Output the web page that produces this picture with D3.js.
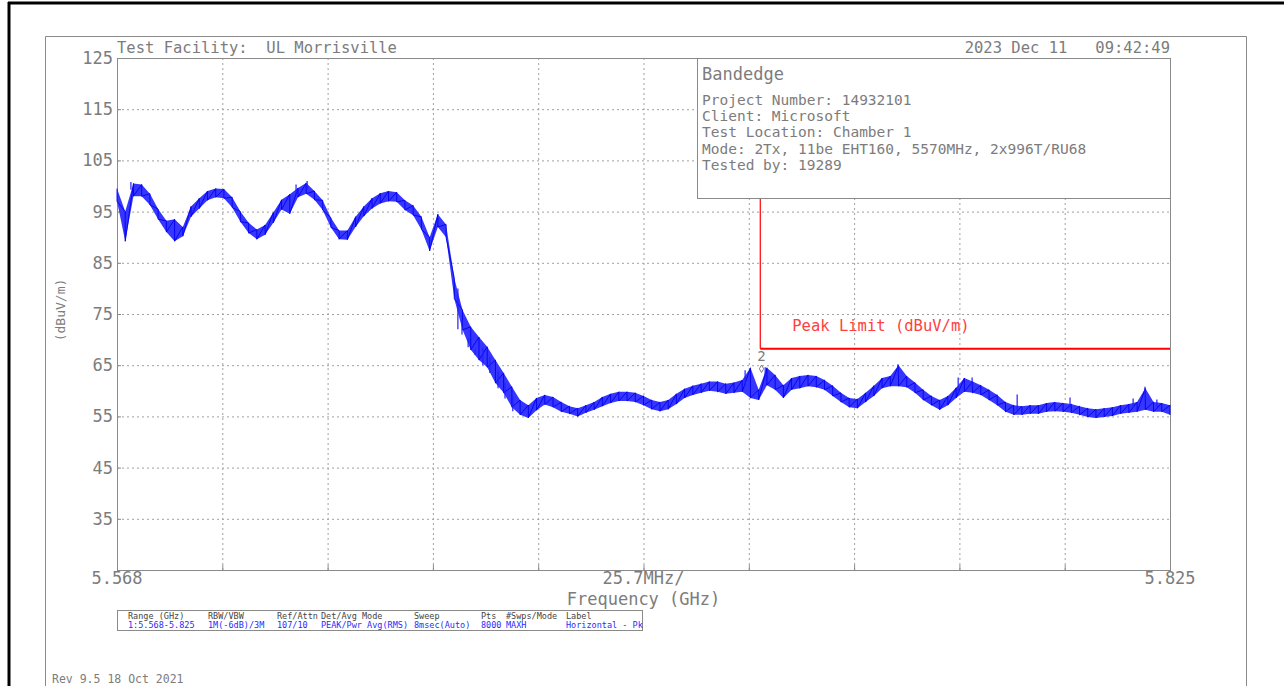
<!DOCTYPE html>
<html><head><meta charset="utf-8">
<script src="https://cdn.jsdelivr.net/npm/d3@7"></script>
<style>
body{margin:0;background:#fff}
svg{display:block}
text{font-family:"DejaVu Sans Mono",monospace}
</style>
</head><body>
<svg id="c" width="1284" height="686"></svg>
<script>
// ---------- data ----------
const freqStart = 5.568, freqStop = 5.825;           // GHz
const yDomain = [25, 125];
const yTickValues = [125, 115, 105, 95, 85, 75, 65, 55, 45, 35];
const xLabels = ["5.568", "25.7MHz/", "5.825"];
const titleLeft = "Test Facility:  UL Morrisville";
const titleRight = "2023 Dec 11   09:42:49";
const yTitle = "(dBuV/m)";
const xTitle = "Frequency (GHz)";
const infoTitle = "Bandedge";
const infoLines = ["Project Number: 14932101", "Client: Microsoft", "Test Location: Chamber 1",
  "Mode: 2Tx, 11be EHT160, 5570MHz, 2x996T/RU68", "Tested by: 19289"];
const limitFreq = 5.725, limitLevel = 68.2;
const limitLabel = "Peak Limit (dBuV/m)";
const markerLabel = "2";
const markerFreq = 5.7253, markerLevel = 64.3;
const tableHeaders = ["Range (GHz)", "RBW/VBW", "Ref/Attn", "Det/Avg Mode", "Sweep", "Pts", "#Swps/Mode", "Label"];
const tableValues = ["1:5.568-5.825", "1M(-6dB)/3M", "107/10", "PEAK/Pwr Avg(RMS)", "8msec(Auto)", "8000", "MAXH", "Horizontal - Pk"];
const revText = "Rev 9.5 18 Oct 2021";
// trace envelope (max / min of peak trace), evenly spaced points over the span
const traceHigh = [
99.5,95.0,100.5,100.3,98.5,95.5,93.2,93.5,92.0,96.0,
97.6,99.0,99.5,99.4,97.8,95.0,92.8,91.5,92.4,94.8,
97.3,98.4,99.6,100.6,99.0,97.2,93.8,91.3,91.3,94.0,
96.0,97.6,98.6,99.0,98.8,97.2,96.2,94.0,90.0,94.5,
92.5,82.0,75.8,72.5,70.5,68.6,66.0,63.5,60.8,58.2,
57.2,58.6,59.2,58.8,57.8,57.0,56.6,57.2,57.8,58.8,
59.4,59.8,59.8,59.6,59.0,58.2,57.8,58.2,59.4,60.4,
61.0,61.4,61.8,61.8,61.4,61.6,62.1,64.5,60.2,64.5,
63.1,61.1,62.5,62.9,63.1,62.9,62.1,61.0,59.6,58.6,
58.4,59.6,61.0,62.5,62.9,65.0,62.9,61.6,60.2,59.0,
58.2,59.0,60.6,62.5,61.8,61.1,60.2,59.2,57.8,57.2,
57.0,57.2,57.2,57.6,57.8,57.6,57.4,57.0,56.6,56.4,
56.6,56.8,57.2,57.4,57.8,60.5,57.8,57.6,57.2];
const traceLow = [
97.0,89.2,98.0,98.0,96.3,93.5,91.0,89.2,90.2,94.0,
95.6,97.2,97.8,97.6,95.8,93.0,90.8,89.6,90.5,92.8,
95.4,94.6,97.8,98.5,97.3,95.3,91.9,89.6,89.5,92.0,
94.1,95.6,96.6,97.0,96.9,95.3,94.3,91.5,87.3,92.0,
90.0,78.0,71.9,68.0,66.0,64.6,61.5,59.6,56.8,55.3,
54.7,56.2,57.3,56.8,55.9,55.5,55.0,55.7,56.3,57.0,
57.6,58.0,58.0,57.8,57.2,56.4,56.0,56.4,57.4,58.6,
59.2,59.6,60.0,59.8,59.4,59.6,59.8,58.6,58.2,61.1,
60.2,58.6,60.2,60.5,60.9,60.7,60.2,59.0,57.8,56.8,
56.6,57.8,59.0,60.5,60.9,60.9,60.7,59.6,58.2,57.2,
56.3,57.2,58.6,59.8,59.6,59.2,58.2,57.2,55.9,55.3,
55.3,55.5,55.5,55.9,56.0,55.9,55.7,55.3,54.9,54.7,
54.9,55.1,55.5,55.7,55.9,56.3,55.9,55.9,55.3];
// isolated noise spikes visible on the trace
const spikeFreq = [5.5714, 5.6117, 5.6144, 5.6512, 5.6522, 5.6537, 5.6554, 5.6573, 5.6590, 5.6610, 5.6627, 5.6646,
  5.7213, 5.7262, 5.7586, 5.7733, 5.7767, 5.7877, 5.8006, 5.8160, 5.8189, 5.8218];
const spikeLevel = [100.8, 100.3, 101.0, 72.0, 71.0, 68.5, 67.0, 65.0, 63.5, 60.5, 58.5, 56.0,
  64.0, 64.6, 65.2, 62.6, 62.6, 59.3, 58.7, 58.5, 60.8, 58.3];

// ---------- layout ----------
const P = {left: 117, top: 58, right: 1170, bottom: 570};
const grey = "#7c7c7c";
const svg = d3.select("#c");
const x = d3.scaleLinear([freqStart, freqStop], [P.left, P.right]);
const y = d3.scaleLinear(yDomain, [P.bottom, P.top]);
const n = traceHigh.length;
const fAt = i => freqStart + i * (freqStop - freqStart) / (n - 1);

// page frames
svg.append("line").attr("x1", 8).attr("x2", 1284).attr("y1", 3).attr("y2", 3).attr("stroke", "#000").attr("stroke-width", 3);
svg.append("line").attr("x1", 9).attr("x2", 9).attr("y1", 2).attr("y2", 686).attr("stroke", "#000").attr("stroke-width", 3);
svg.append("path").attr("d", "M45.5,686V36.5H1246.5V686").attr("fill", "none").attr("stroke", "#8a8a8a").attr("stroke-width", 1);

// grid
const xGrid = d3.range(1, 10).map(i => freqStart + i * (freqStop - freqStart) / 10);
const gx = svg.append("g").attr("transform", `translate(0,${P.bottom})`)
  .call(d3.axisBottom(x).tickValues(xGrid).tickSize(-(P.bottom - P.top)).tickFormat(""));
gx.select(".domain").remove();
gx.selectAll("line").attr("stroke", "#a0a0a0").attr("stroke-dasharray", "2,3");
const gy = svg.append("g").attr("transform", `translate(${P.left},0)`)
  .call(d3.axisLeft(y).tickValues(yTickValues.slice(1)).tickSize(-(P.right - P.left)).tickFormat(""));
gy.select(".domain").remove();
gy.selectAll("line").attr("stroke", "#a0a0a0").attr("stroke-dasharray", "2,3");
// small solid ticks
svg.append("g").attr("transform", `translate(0,${P.bottom})`)
  .call(d3.axisTop(x).tickValues(xGrid).tickSize(5).tickFormat(""))
  .call(g => g.select(".domain").remove()).selectAll("line").attr("stroke", "#8a8a8a");
svg.append("g").attr("transform", `translate(${P.left},0)`)
  .call(d3.axisRight(y).tickValues(yTickValues.slice(1)).tickSize(4).tickFormat(""))
  .call(g => g.select(".domain").remove()).selectAll("line").attr("stroke", "#8a8a8a");

// frame
svg.append("rect").attr("x", P.left + 0.5).attr("y", P.top + 0.5).attr("width", P.right - P.left).attr("height", P.bottom - P.top)
  .attr("fill", "none").attr("stroke", "#8a8a8a");

// y labels
svg.append("g").selectAll("text").data(yTickValues).join("text")
  .attr("x", P.left - 4).attr("y", d => y(d)).attr("dy", "0.35em").attr("text-anchor", "end")
  .attr("font-size", 17).attr("fill", grey).text(d => d);
svg.append("text").attr("transform", `translate(60,${(P.top + P.bottom) / 2 - 4}) rotate(-90)`)
  .attr("text-anchor", "middle").attr("dy", "0.35em").attr("font-size", 13).attr("fill", grey).text(yTitle);

// x labels
const xLabelPos = [freqStart, (freqStart + freqStop) / 2, freqStop];
svg.append("g").selectAll("text").data(xLabels).join("text")
  .attr("x", (d, i) => x(xLabelPos[i])).attr("y", 584).attr("text-anchor", "middle")
  .attr("font-size", 17).attr("fill", grey).text(d => d);
svg.append("text").attr("x", (P.left + P.right) / 2).attr("y", 605).attr("text-anchor", "middle")
  .attr("font-size", 17).attr("fill", grey).text(xTitle);

// titles
svg.append("text").attr("x", P.left).attr("y", 53).attr("font-size", 15.5).attr("fill", grey).style("white-space", "pre").text(titleLeft);
svg.append("text").attr("x", P.right).attr("y", 53).attr("text-anchor", "end").attr("font-size", 15.5).attr("fill", grey).style("white-space", "pre").text(titleRight);

// limit line
svg.append("path").attr("d", `M${x(limitFreq)},${y(125)}V${y(limitLevel)}`).attr("stroke", "#ff0000").attr("stroke-width", 1.2).attr("fill", "none");
svg.append("path").attr("d", `M${x(limitFreq)},${y(limitLevel)}H${x(freqStop)}`).attr("stroke", "#ff0000").attr("stroke-width", 2).attr("fill", "none");
svg.append("text").attr("x", x(limitFreq) + 32).attr("y", y(limitLevel) - 18).attr("font-size", 15.5).attr("fill", "#ff4040").text(limitLabel);

// trace
const idx = d3.range(n);
svg.append("path").datum(idx)
  .attr("d", d3.area().x(i => x(fAt(i))).y0(i => y(traceLow[i])).y1(i => y(traceHigh[i])))
  .attr("fill", "#3636ff");
let zz = "";
idx.forEach(i => { zz += (i ? "L" : "M") + x(fAt(i)) + "," + y(traceHigh[i]) + "L" + x(fAt(i)) + "," + y(traceLow[i]); });
svg.append("path").attr("d", zz).attr("fill", "none").attr("stroke", "#0000f0").attr("stroke-width", 0.9);
// spikes
const nearestIdx = f => Math.round((f - freqStart) / (freqStop - freqStart) * (n - 1));
svg.append("g").selectAll("line").data(spikeFreq).join("line")
  .attr("x1", d => x(d)).attr("x2", d => x(d))
  .attr("y1", (d, i) => { const k = nearestIdx(d); return y((traceHigh[k] + traceLow[k]) / 2); })
  .attr("y2", (d, i) => y(spikeLevel[i]))
  .attr("stroke", "#2020ff").attr("stroke-width", 1.2);

// marker
svg.append("text").attr("x", x(markerFreq)).attr("y", y(markerLevel) - 8).attr("text-anchor", "middle")
  .attr("font-size", 14).attr("fill", grey).text(markerLabel);
svg.append("path").attr("d", d3.symbol(d3.symbolDiamond, 16)()).attr("transform", `translate(${x(markerFreq)},${y(markerLevel)})`)
  .attr("fill", "none").attr("stroke", grey);

// info box
const bx = 697, by = 58, bw = P.right - 697, bh = 140;
svg.append("rect").attr("x", bx + 0.5).attr("y", by + 0.5).attr("width", bw).attr("height", bh).attr("fill", "#fff").attr("stroke", "#8a8a8a");
svg.append("text").attr("x", bx + 5).attr("y", by + 22).attr("font-size", 17).attr("fill", grey).text(infoTitle);
svg.append("g").selectAll("text").data(infoLines).join("text")
  .attr("x", bx + 5).attr("y", (d, i) => by + 47 + i * 16.2).attr("font-size", 14.5).attr("fill", grey).text(d => d);

// settings table
const colX = [128, 208, 277, 321, 414, 481, 506, 566];
svg.append("rect").attr("x", 117.5).attr("y", 610.5).attr("width", 525).attr("height", 20).attr("fill", "none").attr("stroke", "#8a8a8a");
svg.append("g").selectAll("text").data(tableHeaders).join("text")
  .attr("x", (d, i) => colX[i]).attr("y", 619).attr("font-size", 8.5).attr("fill", "#444").text(d => d);
svg.append("g").selectAll("text").data(tableValues).join("text")
  .attr("x", (d, i) => colX[i]).attr("y", 628).attr("font-size", 8.5).attr("fill", "#2a2aff").text(d => d);

svg.append("text").attr("x", 52).attr("y", 683).attr("font-size", 11.5).attr("fill", grey).text(revText);
</script>
</body></html>
